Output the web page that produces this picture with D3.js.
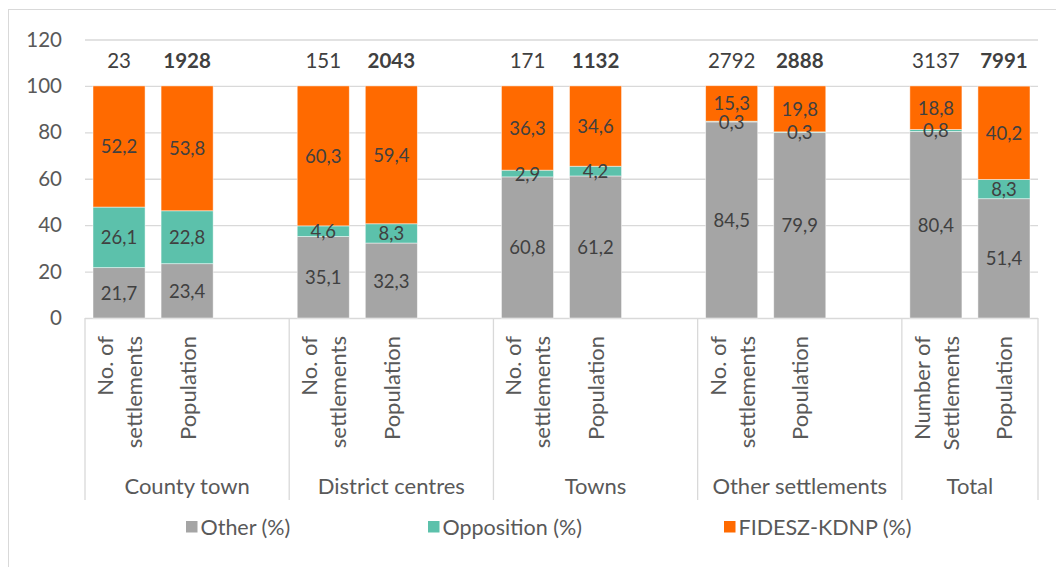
<!DOCTYPE html>
<html>
<head>
<meta charset="utf-8">
<script src="https://cdn.jsdelivr.net/npm/d3@7"></script>
<style>
  body { margin: 0; background: #fff; }
  text { font-family: Lato, "Open Sans", sans-serif; }
</style>
</head>
<body>
<div id="chart-area"></div>
<script>
// data
var groups = ["County town", "District centres", "Towns", "Other settlements", "Total"];
var barGroup = [0, 0, 1, 1, 2, 2, 3, 3, 4, 4];
var barLabels = [
    ["No. of", "settlements"], ["Population"],
    ["No. of", "settlements"], ["Population"],
    ["No. of", "settlements"], ["Population"],
    ["No. of", "settlements"], ["Population"],
    ["Number of", "Settlements"], ["Population"]
];
var other      = [21.7, 23.4, 35.1, 32.3, 60.8, 61.2, 84.5, 79.9, 80.4, 51.4];
var opposition = [26.1, 22.8, 4.6, 8.3, 2.9, 4.2, 0.3, 0.3, 0.8, 8.3];
var fidesz     = [52.2, 53.8, 60.3, 59.4, 36.3, 34.6, 15.3, 19.8, 18.8, 40.2];
var counts     = [23, 1928, 151, 2043, 171, 1132, 2792, 2888, 3137, 7991];
var seriesNames = ["Other (%)", "Opposition (%)", "FIDESZ-KDNP (%)"];
var yTicks = [0, 20, 40, 60, 80, 100, 120];

var width = 1056;
var height = 567;
var colors = ["#a5a5a5", "#5cc1ab", "#ff6a00"];

var svg = d3.select("#chart-area")
    .append("svg")
    .attr("width", width)
    .attr("height", height);

// chart border (only top and left edges are visible in the crop)
svg.append("rect")
    .attr("x", 8.5)
    .attr("y", 9.5)
    .attr("width", width + 20)
    .attr("height", height + 20)
    .attr("fill", "none")
    .attr("stroke", "#d9d9d9");

var plotLeft = 85, plotRight = 1038, plotTop = 39.5, plotBottom = 318;

// one slot per bar, plus an empty spacer slot after each group but the last
var slots = [];
var barSlot = [];
groups.forEach(function(gName, gi) {
    barGroup.forEach(function(bg, bi) {
        if (bg === gi) {
            barSlot[bi] = "b" + bi;
            slots.push("b" + bi);
        }
    });
    if (gi < groups.length - 1) slots.push("gap" + gi);
});

var x = d3.scaleBand()
    .domain(slots)
    .range([plotLeft, plotRight])
    .paddingInner(0.235)
    .paddingOuter(0.1175);

var y = d3.scaleLinear()
    .domain([0, 120])
    .range([plotBottom, plotTop]);

var comma = d3.formatLocale({ decimal: ",", thousands: " ", grouping: [3], currency: ["", ""] });
var fmt = comma.format(".1f");

// gridlines
var grid = svg.append("g")
    .attr("transform", "translate(" + plotLeft + ",0)")
    .call(d3.axisLeft(y).tickValues(yTicks).tickSize(-(plotRight - plotLeft)).tickFormat(""));
grid.select(".domain").remove();
grid.selectAll("line").attr("stroke", "#d9d9d9").attr("stroke-width", 1.3);

// y axis labels
var yAxis = svg.append("g")
    .attr("transform", "translate(" + plotLeft + ",0)")
    .call(d3.axisLeft(y).tickValues(yTicks).tickSize(0).tickPadding(23));
yAxis.select(".domain").remove();
yAxis.selectAll("text")
    .attr("font-size", "20.5px")
    .attr("font-family", "Lato, sans-serif")
    .attr("fill", "#595959");

// stacked bars
var table = other.map(function(d, i) {
    return { i: i, a: other[i], b: opposition[i], c: fidesz[i] };
});
var stack = d3.stack().keys(["a", "b", "c"]);
var layers = stack(table);

var layerG = svg.selectAll("g.layer")
    .data(layers)
    .enter()
    .append("g")
    .attr("class", "layer")
    .attr("fill", function(d, i) { return colors[i]; });

layerG.selectAll("rect")
    .data(function(d) { return d; })
    .enter()
    .append("rect")
    .attr("x", function(d) { return x(barSlot[d.data.i]); })
    .attr("width", x.bandwidth())
    .attr("y", function(d) { return y(d[1]); })
    .attr("height", function(d) { return y(d[0]) - y(d[1]); })
    .attr("stroke", "#ffffff")
    .attr("stroke-opacity", 0.6)
    .attr("stroke-width", 0.8);

// value labels in the middle of each segment, drawn above all bars
var segs = [];
layers.forEach(function(layer) {
    layer.forEach(function(d) { segs.push(d); });
});

svg.append("g")
    .selectAll("text")
    .data(segs)
    .enter()
    .append("text")
    .attr("x", function(d) { return x(barSlot[d.data.i]) + x.bandwidth() / 2; })
    .attr("y", function(d) { return y((d[0] + d[1]) / 2); })
    .attr("text-anchor", "middle")
    .attr("dominant-baseline", "central")
    .attr("font-size", "18.5px")
    .attr("fill", "#404040")
    .text(function(d) { return fmt(d[1] - d[0]); });

// counts above the bars
svg.selectAll("text.count")
    .data(counts)
    .enter()
    .append("text")
    .attr("class", "count")
    .attr("x", function(d, i) { return x(barSlot[i]) + x.bandwidth() / 2; })
    .attr("y", y(111))
    .attr("text-anchor", "middle")
    .attr("dominant-baseline", "central")
    .attr("font-size", "20.5px")
    .attr("font-weight", function(d, i) { return i % 2 === 1 ? "bold" : "normal"; })
    .attr("fill", "#404040")
    .text(function(d) { return d; });

// category axis: group dividers
var step = x.step();
var half = step * x.paddingInner() / 2;
var groupEdges = [];
groups.forEach(function(gName, gi) {
    var first = barSlot[barGroup.indexOf(gi)];
    groupEdges.push(x(first) - half);
});
groupEdges.push(plotRight);

svg.selectAll("line.divider")
    .data(groupEdges)
    .enter()
    .append("line")
    .attr("class", "divider")
    .attr("x1", function(d) { return d; })
    .attr("x2", function(d) { return d; })
    .attr("y1", plotBottom)
    .attr("y2", 500)
    .attr("stroke", "#d9d9d9")
    .attr("stroke-width", 1.3);

// rotated bar labels
var barLab = svg.selectAll("g.barlab")
    .data(barLabels)
    .enter()
    .append("g")
    .attr("class", "barlab")
    .attr("transform", function(d, i) {
        return "translate(" + (x(barSlot[i]) + x.bandwidth() / 2) + ",336) rotate(-90)";
    });

barLab.selectAll("text")
    .data(function(d) {
        return d.map(function(line, k) { return { line: line, k: k, n: d.length }; });
    })
    .enter()
    .append("text")
    .attr("x", 0)
    .attr("y", function(d) { return (d.k - (d.n - 1) / 2) * 29; })
    .attr("text-anchor", "end")
    .attr("dominant-baseline", "central")
    .attr("font-size", "22px")
    .attr("fill", "#595959")
    .text(function(d) { return d.line; });

// group labels
svg.selectAll("text.group")
    .data(groups)
    .enter()
    .append("text")
    .attr("class", "group")
    .attr("x", function(d, i) { return (groupEdges[i] + groupEdges[i + 1]) / 2; })
    .attr("y", 485)
    .attr("text-anchor", "middle")
    .attr("dominant-baseline", "central")
    .attr("font-size", "22px")
    .attr("fill", "#595959")
    .text(function(d) { return d; });

// legend
var legendX = [186, 428, 724];
var legend = svg.selectAll("g.legend")
    .data(seriesNames)
    .enter()
    .append("g")
    .attr("class", "legend")
    .attr("transform", function(d, i) { return "translate(" + legendX[i] + ",521)"; });

legend.append("rect")
    .attr("width", 11.5)
    .attr("height", 11.5)
    .attr("fill", function(d, i) { return colors[i]; });

legend.append("text")
    .attr("x", 14.5)
    .attr("y", 6)
    .attr("dominant-baseline", "central")
    .attr("font-size", "21.5px")
    .attr("fill", "#595959")
    .text(function(d) { return d; });
</script>
</body>
</html>
